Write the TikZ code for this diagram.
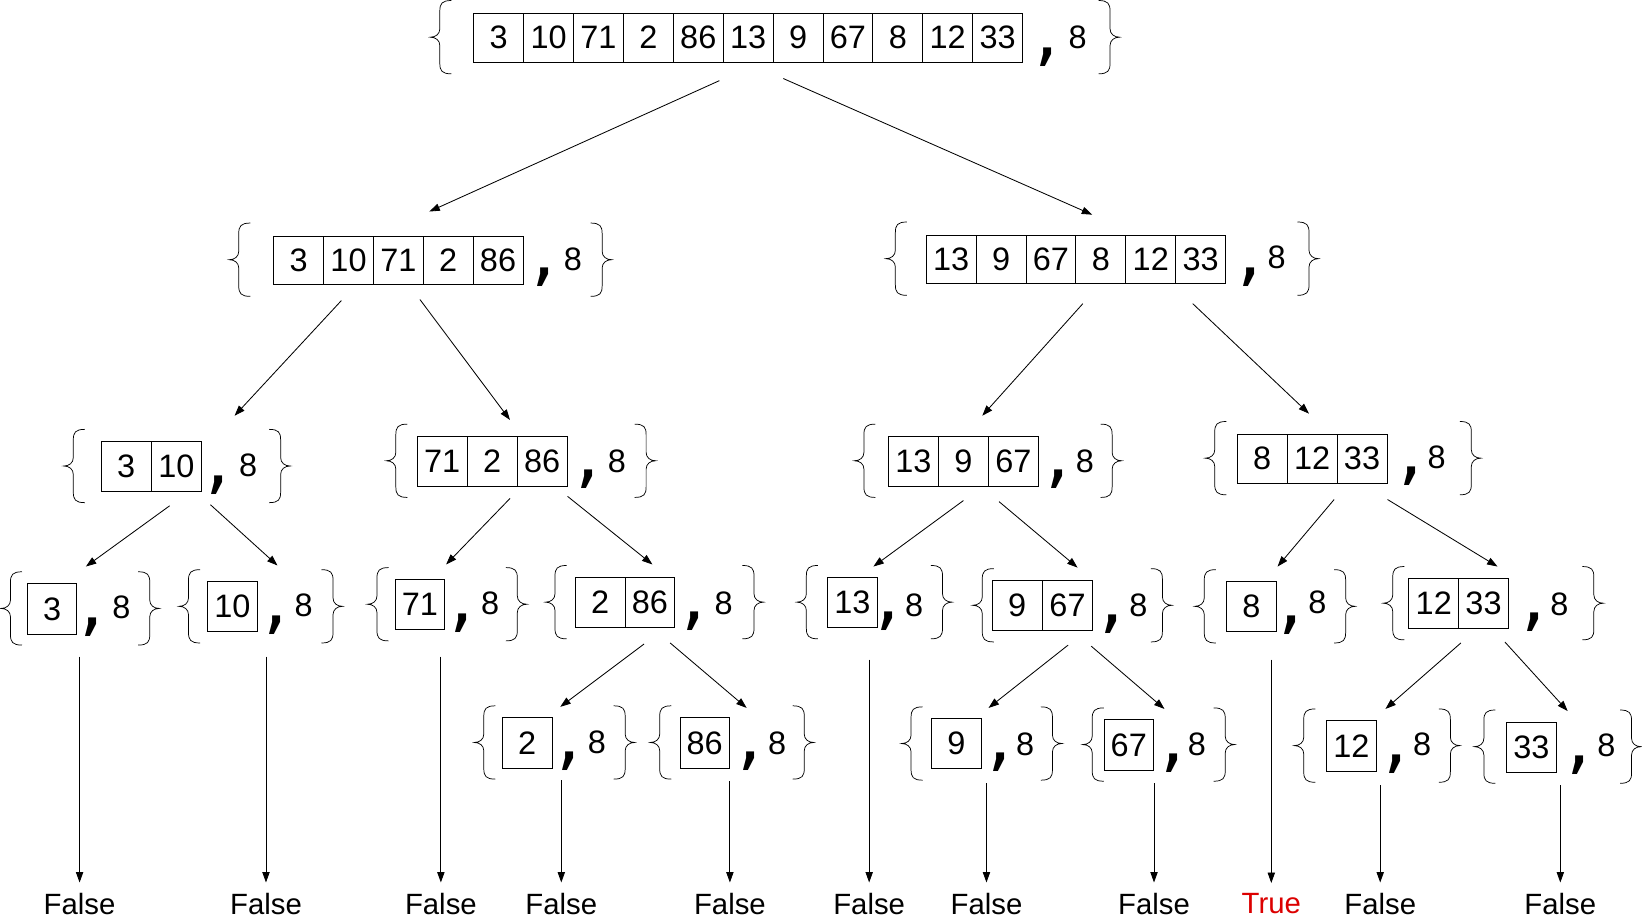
\documentclass[tikz,border=0pt]{standalone}
\usepackage{fontspec}
\setmainfont{Liberation Sans}
\newfontfamily\commafont{DejaVu Sans}
\usetikzlibrary{arrows.meta}
\definecolor{truered}{RGB}{220,0,0}
\tikzset{
  cell/.style={draw, line width=0.8pt, inner sep=0pt, font=\fontsize{31}{34}\selectfont},
  val/.style={inner sep=0pt, font=\fontsize{31}{34}\selectfont},
  commasty/.style={inner sep=0pt, font=\fontsize{74}{74}\commafont},
  bracesty/.style={line width=0.7pt},
  arr/.style={line width=0.8pt, -{Triangle[length=10pt,width=7pt]}},
  result/.style={inner xsep=0pt, inner ysep=10pt, outer sep=0pt, font=\fontsize{28}{30}\selectfont},
}
\newcommand\Cells[6]{%
  \foreach \v [count=\i] in {#6} {%
    \node[cell, minimum width=#4pt, minimum height=#5pt, anchor=north west] (#1c\i) at ({#2+(\i-1)*#4}, #3) {\v};}}
\newcommand\LBr[2]{%
  \draw[bracesty] ({#1+11},{#2-35}) .. controls ({#1+2},{#2-35}) and (#1,{#2-32}) .. (#1,{#2-25})
    -- (#1,{#2-8}) .. controls (#1,{#2-3}) and ({#1-4},#2) .. ({#1-9},#2)
    .. controls ({#1-4},#2) and (#1,{#2+3}) .. (#1,{#2+8})
    -- (#1,{#2+25}) .. controls (#1,{#2+32}) and ({#1+2},{#2+35}) .. ({#1+11},{#2+35});}
\newcommand\RBr[2]{%
  \draw[bracesty] ({#1-11},{#2-35}) .. controls ({#1-2},{#2-35}) and (#1,{#2-32}) .. (#1,{#2-25})
    -- (#1,{#2-8}) .. controls (#1,{#2-3}) and ({#1+4},#2) .. ({#1+9},#2)
    .. controls ({#1+4},#2) and (#1,{#2+3}) .. (#1,{#2+8})
    -- (#1,{#2+25}) .. controls (#1,{#2+32}) and ({#1-2},{#2+35}) .. ({#1-11},{#2+35});}
\newcommand\Grp[8]{% name, commax, commay, eightx, eighty, lbx, rbx, bracey
  \node[commasty] (#1comma) at (#2,#3) {,};
  \node[val] (#1eight) at (#4,#5) {8};
  \LBr{#6}{#8}\RBr{#7}{#8}}
\begin{document}
\begin{tikzpicture}[x=1pt,y=-1pt]
\useasboundingbox (0,0) rectangle (1568,878);
\fill[white] (0,0) rectangle (1568,878);

% level 0
\Cells{g0}{452}{12}{47.64}{47}{3,10,71,2,86,13,9,67,8,12,33}
\Grp{g0}{1000}{55}{1029}{36}{420}{1060}{35.5}
% level 1
\Cells{g1}{261}{225}{47.6}{46}{3,10,71,2,86}
\Grp{g1}{519}{265}{547}{248}{228}{575}{248}
\Cells{g2}{884}{224}{47.67}{46}{13,9,67,8,12,33}
\Grp{g2}{1193}{265}{1219}{246}{855}{1250}{247}
% level 2
\Cells{g3}{96}{421}{48}{48}{3,10}
\Grp{g3}{208}{463}{237}{444}{70}{268}{445}
\Cells{g4}{398}{416}{47.7}{48}{71,2,86}
\Grp{g4}{561}{458}{589}{441}{378}{617}{440}
\Cells{g5}{848}{416}{47.7}{48}{13,9,67}
\Grp{g5}{1010}{458}{1036}{441}{825}{1062}{440}
\Cells{g6}{1181}{414}{47.7}{47}{8,12,33}
\Grp{g6}{1347}{455}{1372}{437}{1160}{1405}{437.5}
% level 3
\Cells{g7}{26}{557}{47}{48}{3}
\Grp{g7}{88}{599}{116}{580}{10}{143}{581}
\Cells{g8}{198}{555}{47}{48}{10}
\Grp{g8}{263}{597}{290}{578}{180}{318}{579}
\Cells{g9}{377}{553}{47}{48}{71}
\Grp{g9}{441}{595}{468}{576}{360}{494}{577}
\Cells{g10}{549}{551}{47.5}{48}{2,86}
\Grp{g10}{663}{593}{691}{576}{530}{720}{575}
\Cells{g11}{790}{551}{47}{48}{13}
\Grp{g11}{848}{593}{873}{578}{770}{900}{575}
\Cells{g12}{947}{554}{48}{48}{9,67}
\Grp{g12}{1062}{596}{1087}{578}{938}{1110}{578}
\Cells{g13}{1171}{555}{47}{48}{8}
\Grp{g13}{1233}{597}{1258}{575}{1150}{1285}{579}
\Cells{g14}{1345}{552}{47.5}{48}{12,33}
\Grp{g14}{1465}{594}{1489}{577}{1330}{1522}{576}
% level 4
\Cells{g15}{479}{685}{48}{48}{2}
\Grp{g15}{543}{727}{570}{709}{462}{597}{709}
\Cells{g16}{649}{685}{47}{48}{86}
\Grp{g16}{716}{727}{742}{710}{630}{768}{709}
\Cells{g17}{889}{686}{48}{47}{9}
\Grp{g17}{955}{728}{979}{711}{870}{1005}{710}
\Cells{g18}{1054}{687}{47}{48}{67}
\Grp{g18}{1120}{729}{1143}{711}{1043}{1170}{711}
\Cells{g19}{1266}{688}{48}{48}{12}
\Grp{g19}{1333}{730}{1358}{711}{1245}{1385}{712}
\Cells{g20}{1438}{689}{48}{48}{33}
\Grp{g20}{1508}{731}{1534}{712}{1417}{1558}{713}

% tree arrows
\coordinate (a1s) at (687,77);   \coordinate (a1e) at (410,202);
\coordinate (a2s) at (748,75);   \coordinate (a2e) at (1043,205);
\coordinate (a3s) at (326,287);  \coordinate (a3e) at (224,397);
\coordinate (a4s) at (401,286);  \coordinate (a4e) at (487,401);
\coordinate (a5s) at (1034,290); \coordinate (a5e) at (938,397);
\coordinate (a6s) at (1139,290); \coordinate (a6e) at (1250,395);
\coordinate (a7s) at (162,483);  \coordinate (a7e) at (82,541);
\coordinate (a8s) at (201,482);  \coordinate (a8e) at (265,540);
\coordinate (a9s) at (487,476);  \coordinate (a9e) at (426,539);
\coordinate (a10s) at (542,474); \coordinate (a10e) at (623,539);
\coordinate (a11s) at (920,478); \coordinate (a11e) at (834,541);
\coordinate (a12s) at (954,479); \coordinate (a12e) at (1029,542);
\coordinate (a13s) at (1274,477);\coordinate (a13e) at (1220,541);
\coordinate (a14s) at (1325,477);\coordinate (a14e) at (1430,541);
\coordinate (a15s) at (615,615); \coordinate (a15e) at (535,675);
\coordinate (a16s) at (640,614); \coordinate (a16e) at (713,676);
\coordinate (a17s) at (1020,616);\coordinate (a17e) at (944,676);
\coordinate (a18s) at (1042,617);\coordinate (a18e) at (1112,677);
\coordinate (a19s) at (1395,614);\coordinate (a19e) at (1323,677);
\coordinate (a20s) at (1437,613);\coordinate (a20e) at (1497,679);
\foreach \k in {1,...,20} {\draw[arr] (a\k s) -- (a\k e);}

% results
\node[result] (r1) at (76,863) {False};
\node[result] (r2) at (254,863) {False};
\node[result] (r3) at (421,863) {False};
\node[result] (r4) at (536,863) {False};
\node[result] (r5) at (697,863) {False};
\node[result] (r6) at (830,863) {False};
\node[result] (r7) at (942,863) {False};
\node[result] (r8) at (1102,863) {False};
\node[result, text=truered] (r9) at (1214,863) {True};
\node[result] (r10) at (1318,863) {False};
\node[result] (r11) at (1490,863) {False};
\coordinate (v1) at (76,627);
\coordinate (v2) at (254,627);
\coordinate (v3) at (421,627);
\coordinate (v4) at (536,745);
\coordinate (v5) at (697,746);
\coordinate (v6) at (830,630);
\coordinate (v7) at (942,748);
\coordinate (v8) at (1102,748);
\coordinate (v9) at (1214,630);
\coordinate (v10) at (1318,750);
\coordinate (v11) at (1490,750);
\foreach \k in {1,...,11} {\draw[arr] (v\k) -- (r\k);}
\end{tikzpicture}
\end{document}
